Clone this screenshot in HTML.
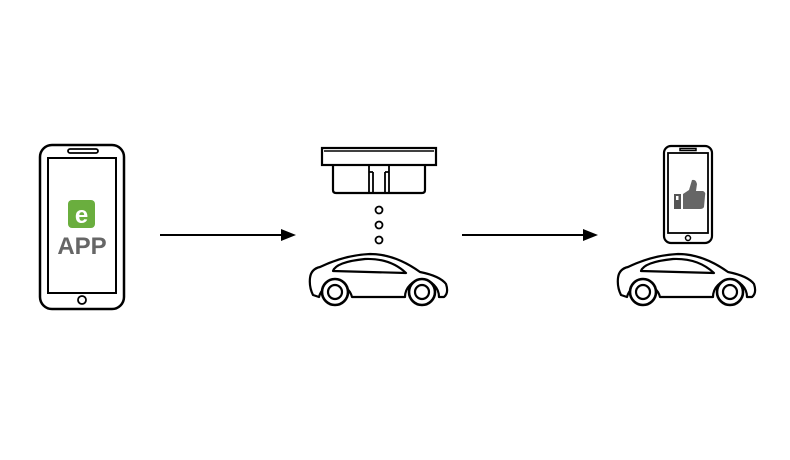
<!DOCTYPE html>
<html><head><meta charset="utf-8"><style>html,body{margin:0;padding:0;background:#fff}svg{display:block}</style></head>
<body>
<svg width="790" height="460" viewBox="0 0 790 460" xmlns="http://www.w3.org/2000/svg">
<defs>
<g id="car" fill="none" stroke="#000" stroke-width="2.2" stroke-linejoin="round">
<path d="M319 297 L313 295 Q309 287 310 278 Q311 269 320 267 Q345 255 370 254 Q395 254 420 272 Q440 276 446 284 Q449 293 444 297 L439 297 A17 17 0 0 0 405 297 L352 297 A17 17 0 0 0 319 297 Z" fill="#fff"/>
<path d="M333 271 Q336 262 365 259 Q390 258 406 273 Z"/>
<circle cx="335" cy="292" r="13" fill="#fff" stroke-width="2.6"/>
<circle cx="335" cy="292" r="7"/>
<circle cx="422" cy="292" r="13" fill="#fff" stroke-width="2.6"/>
<circle cx="422" cy="292" r="7"/>
</g>
</defs>
<g fill="none" stroke="#000">
<rect x="40" y="145" width="84" height="164" rx="12" stroke-width="2.5"/>
<rect x="48" y="158" width="68" height="135" stroke-width="2"/>
<rect x="68" y="149" width="30" height="4" rx="2" stroke-width="1.8"/>
<circle cx="82" cy="300" r="4" stroke-width="1.8"/>
</g>
<rect x="68" y="200" width="27" height="28" rx="4" fill="#6aae3e"/>
<text x="81.5" y="223" text-anchor="middle" font-family="Liberation Sans, sans-serif" font-weight="bold" font-size="24" fill="#fff">e</text>
<text x="82" y="254" text-anchor="middle" font-family="Liberation Sans, sans-serif" font-weight="bold" font-size="24" fill="#666">APP</text>
<g stroke="#000" stroke-width="2"><line x1="160" y1="235" x2="285" y2="235"/><line x1="462" y1="235" x2="587" y2="235"/></g>
<polygon points="296,235 281,229 281,241" fill="#000"/>
<polygon points="598,235 583,229 583,241" fill="#000"/>
<g fill="none" stroke="#000" stroke-width="2.2">
<rect x="322" y="148" width="114" height="17" fill="#fff"/>
<line x1="324" y1="151" x2="434" y2="151" stroke-width="1.5"/>
<path d="M333 165 L333 190 Q333 193 336 193 L422 193 Q425 193 425 190 L425 165"/>
<path d="M369 165 L369 193 M389 165 L389 193 M373 172 L373 193 M385 172 L385 193 M369 172 L373 172 M385 172 L389 172" stroke-width="1.8"/>
<circle cx="379" cy="210" r="3.5" stroke-width="1.8"/>
<circle cx="379" cy="225" r="3.5" stroke-width="1.8"/>
<circle cx="379" cy="240" r="3.5" stroke-width="1.8"/>
</g>
<use href="#car"/>
<use href="#car" transform="translate(308,0)"/>
<g fill="none" stroke="#000">
<rect x="664" y="146" width="48" height="97" rx="7" stroke-width="2.2"/>
<rect x="668" y="153" width="40" height="80" stroke-width="1.8"/>
<rect x="680" y="148.5" width="16" height="2" stroke-width="1.5"/>
<circle cx="688" cy="238" r="2.5" stroke-width="1.5"/>
</g>
<rect x="674" y="194" width="7" height="15" fill="#555"/>
<rect x="676" y="196" width="2.5" height="4" fill="#fff"/>
<path d="M683 194 L689 190 L692 180 Q696 179 697 184 L696 191 L703 191 Q706 192 705 196 L704 207 Q703 209 700 209 L683 209 Z" fill="#666"/>
</svg>
</body></html>
